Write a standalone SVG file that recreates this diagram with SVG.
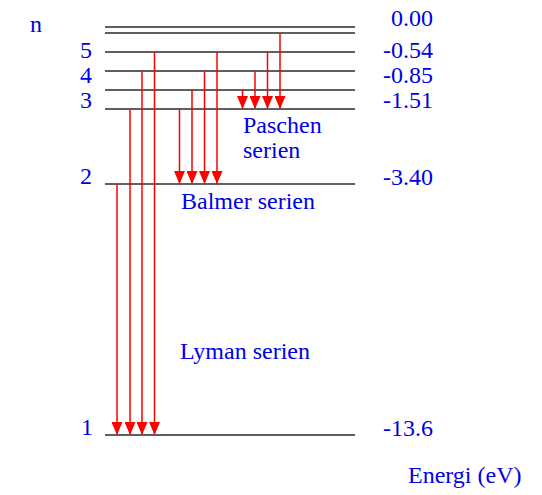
<svg xmlns="http://www.w3.org/2000/svg" width="542" height="495" viewBox="0 0 542 495">
<style>
.lvl{stroke:#2a2a2a;stroke-width:1.5;fill:none}
.ar{stroke:#ff0000;stroke-width:1.5;fill:none;marker-end:url(#ah)}
.t{font-family:'Liberation Serif','DejaVu Serif','Tinos','Nimbus Roman','FreeSerif','Times New Roman',serif;font-size:24px;fill:#0000e6}
.r{text-anchor:end}
</style>
<defs>
<marker id="ah" viewBox="0 0 11 13" refX="5.5" refY="12" markerWidth="11" markerHeight="13" markerUnits="userSpaceOnUse" orient="0">
<path d="M0,0 L11,0 L5.5,13 z" fill="#ff0000"/>
</marker>
</defs>
<rect width="542" height="495" fill="#ffffff"/>
<g id="levels">
<line class="lvl" x1="105" y1="27" x2="355" y2="27"/>
<line class="lvl" x1="105" y1="33" x2="355" y2="33"/>
<line class="lvl" x1="105" y1="52" x2="355" y2="52"/>
<line class="lvl" x1="105" y1="71" x2="355" y2="71"/>
<line class="lvl" x1="105" y1="90" x2="355" y2="90"/>
<line class="lvl" x1="105" y1="109" x2="355" y2="109"/>
<line class="lvl" x1="105" y1="184" x2="355" y2="184"/>
<line class="lvl" x1="105" y1="435" x2="355" y2="435"/>
</g>
<g id="connectors">
<line class="ar" x1="117" y1="184" x2="117" y2="434"/>
<line class="ar" x1="130" y1="109" x2="130" y2="434"/>
<line class="ar" x1="142" y1="71" x2="142" y2="434"/>
<line class="ar" x1="154.5" y1="52" x2="154.5" y2="434"/>
<line class="ar" x1="179.5" y1="109" x2="179.5" y2="183"/>
<line class="ar" x1="192" y1="90" x2="192" y2="183"/>
<line class="ar" x1="204.5" y1="71" x2="204.5" y2="183"/>
<line class="ar" x1="217" y1="52" x2="217" y2="183"/>
<line class="ar" x1="242.5" y1="90" x2="242.5" y2="108"/>
<line class="ar" x1="255" y1="71" x2="255" y2="108"/>
<line class="ar" x1="267.5" y1="52" x2="267.5" y2="108"/>
<line class="ar" x1="280" y1="33" x2="280" y2="108"/>
</g>
<g id="labels" class="t">
<text x="30" y="32">n</text>
<text x="80" y="58">5</text>
<text x="80" y="83">4</text>
<text x="80" y="108">3</text>
<text x="80" y="184">2</text>
<text x="81" y="435">1</text>
<text class="r" x="433" y="26">0.00</text>
<text class="r" x="433" y="58">-0.54</text>
<text class="r" x="433" y="83">-0.85</text>
<text class="r" x="433" y="108">-1.51</text>
<text class="r" x="433" y="185">-3.40</text>
<text class="r" x="433" y="436">-13.6</text>
<text x="243" y="133">Paschen</text>
<text x="243" y="158">serien</text>
<text x="181" y="209">Balmer serien</text>
<text x="180" y="359">Lyman serien</text>
<text x="408" y="483">Energi (eV)</text>
</g>
</svg>
